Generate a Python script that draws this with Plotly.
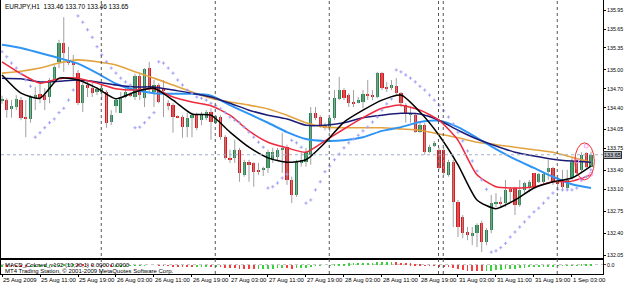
import plotly.graph_objects as go

# ---------------- data (EURJPY H1) ----------------
opens = [134.51,134.52,134.38,134.41,134.52,134.25,134.22,134.55,134.62,134.60,
         134.57,134.84,135.13,135.43,135.16,135.13,134.95,134.47,134.76,134.71,
         134.65,134.65,134.65,134.17,134.43,134.32,134.57,134.62,134.57,134.90,
         134.55,135.03,134.65,134.76,134.68,134.47,134.44,134.27,134.25,134.09,
         134.24,134.28,134.20,134.24,134.33,134.16,134.25,133.93,133.60,133.60,
         133.73,133.33,133.53,133.52,133.41,133.41,133.44,133.57,133.61,133.73,
         133.77,133.25,133.01,133.52,133.53,133.65,134.32,134.25,134.09,134.08,
         134.24,134.54,134.68,134.60,134.49,134.47,134.49,134.60,134.60,134.57,
         134.95,134.73,134.71,134.74,134.63,134.44,134.28,134.28,134.01,134.12,
         133.69,133.79,133.73,133.73,133.33,133.53,132.90,132.66,132.42,132.36,
         132.40,132.56,132.26,132.45,132.87,132.88,132.88,133.10,133.12,132.85,
         133.09,133.12,133.36,133.22,133.22,133.38,133.44,133.22,133.22,133.12,
         133.28,133.57,133.41,133.68,133.46]
highs = [134.59,134.55,134.52,134.60,134.57,134.52,134.60,134.73,134.78,134.71,
         134.87,135.08,135.48,135.84,135.37,135.24,135.00,134.79,134.81,134.79,
         134.73,134.76,134.68,134.36,134.55,134.65,134.71,134.65,134.94,134.94,
         135.03,135.13,134.84,134.79,134.84,134.52,134.47,134.28,134.28,134.32,
         134.32,134.32,134.33,134.36,134.39,134.28,134.28,133.96,133.73,133.89,
         133.76,133.57,133.57,133.53,133.52,133.46,133.73,133.76,133.76,134.00,
         133.81,133.30,133.57,133.69,133.76,134.41,134.41,134.28,134.16,134.25,
         134.68,134.89,134.71,134.63,134.68,134.57,134.68,134.84,134.68,134.97,
         134.97,134.81,134.84,134.87,134.65,134.47,134.41,134.32,134.16,134.16,
         133.81,133.87,133.76,133.77,133.57,133.57,132.93,132.69,132.50,132.50,
         132.56,132.60,132.48,133.01,133.04,132.98,133.25,133.14,133.14,133.25,
         133.22,133.25,133.36,133.36,133.38,133.57,133.46,133.33,133.41,133.41,
         133.60,133.60,133.69,133.69,133.70]
lows = [134.46,134.24,134.24,134.36,134.20,133.93,134.16,134.36,134.47,134.36,
        134.47,134.81,135.03,134.97,135.08,134.89,134.44,134.33,134.57,134.57,
        134.60,134.52,134.08,134.12,134.32,134.32,134.55,134.57,134.52,134.52,
        134.41,134.65,134.41,134.47,134.25,134.36,134.00,134.24,133.92,133.93,
        133.93,134.04,134.12,134.20,133.89,134.14,133.89,133.57,133.52,133.52,
        133.22,133.30,133.22,133.14,133.33,133.31,133.36,133.52,133.57,133.36,
        133.17,132.88,132.98,133.46,133.46,133.49,134.20,134.08,134.04,134.01,
        134.20,134.52,134.52,134.41,134.41,134.47,134.39,134.52,134.52,134.55,
        134.68,134.65,134.68,134.60,134.41,134.16,134.16,134.00,134.00,133.65,
        133.68,133.77,133.41,133.33,133.30,132.50,132.34,132.32,132.29,132.21,
        132.18,132.10,132.21,132.40,132.82,132.82,132.82,132.88,132.69,132.82,
        133.04,133.06,133.12,133.20,133.17,133.25,133.17,133.12,133.09,133.09,
        133.25,133.33,133.36,133.44,133.46]
closes = [134.54,134.36,134.43,134.54,134.24,134.22,134.57,134.60,134.55,134.52,
          134.84,135.05,135.43,135.27,135.11,135.08,134.47,134.76,134.71,134.63,
          134.70,134.71,134.16,134.28,134.52,134.57,134.65,134.60,134.90,134.60,
          135.02,134.71,134.76,134.49,134.67,134.43,134.25,134.25,134.09,134.24,
          134.28,134.08,134.30,134.33,134.17,134.27,133.93,133.60,133.57,133.73,
          133.36,133.53,133.49,133.38,133.38,133.42,133.69,133.69,133.73,133.75,
          133.25,133.01,133.53,133.57,133.69,134.32,134.24,134.09,134.08,134.24,
          134.55,134.68,134.55,134.47,134.47,134.52,134.62,134.59,134.57,134.95,
          134.71,134.71,134.76,134.63,134.47,134.32,134.32,134.01,134.12,133.69,
          133.77,133.84,133.44,133.36,133.53,132.90,132.50,132.40,132.37,132.40,
          132.53,132.26,132.45,132.88,132.88,132.87,133.09,133.06,132.85,133.09,
          133.20,133.22,133.14,133.34,133.34,133.44,133.22,133.20,133.14,133.25,
          133.53,133.36,133.65,133.46,133.65]

# moving averages sampled every 4 bars
ma_idx = list(range(0, 125, 4))
ma_black = [134.92,134.63,134.55,134.87,134.84,134.71,134.54,134.65,134.71,134.52,
            134.30,134.28,134.01,133.77,133.60,133.53,133.57,133.84,134.17,134.36,
            134.52,134.60,134.33,133.96,133.49,132.93,132.79,132.93,133.12,133.22,
            133.28,133.47]
ma_red = [135.13,134.94,134.79,134.86,134.87,134.79,134.70,134.68,134.70,134.57,
          134.49,134.43,134.28,134.03,133.85,133.76,133.69,133.87,134.06,134.24,
          134.39,134.44,134.36,134.20,133.88,133.33,133.14,133.12,133.14,133.22,
          133.23,133.33]
ma_navy = [134.87,134.86,134.81,134.82,134.84,134.81,134.76,134.73,134.73,134.68,
           134.63,134.57,134.47,134.36,134.28,134.22,134.12,134.12,134.16,134.24,
           134.28,134.31,134.30,134.20,134.04,133.90,133.79,133.69,133.63,133.58,
           133.55,133.53]
ma_lightblue = [135.40,135.35,135.27,135.19,135.10,134.95,134.78,134.68,134.63,134.62,
                134.62,134.59,134.44,134.30,134.16,134.01,133.90,133.87,133.88,133.93,
                134.03,134.09,134.17,134.19,134.09,133.92,133.74,133.58,133.44,133.30,
                133.18,133.12]
ma_orange = [134.95,134.98,135.03,135.11,135.16,135.13,135.08,134.97,134.87,134.76,
             134.65,134.55,134.49,134.44,134.38,134.28,134.16,134.09,134.08,134.08,
             134.08,134.06,134.04,133.98,133.92,133.85,133.81,133.77,133.73,133.69,
             133.61,133.53]

# parabolic SAR
sar = [135.29,135.21,135.11,135.03,134.94,134.84,134.74,133.93,134.00,134.08,
       134.16,134.22,134.32,134.39,134.52,134.68,135.86,135.76,135.64,135.52,
       135.37,135.24,135.13,135.03,134.95,134.87,134.81,134.76,134.08,134.09,
       134.16,134.24,134.32,135.13,135.11,135.03,134.95,134.84,134.76,134.68,
       134.63,134.57,134.55,134.52,134.47,134.43,134.38,134.32,134.25,134.20,
       134.16,134.09,134.01,133.93,133.85,133.77,133.12,133.14,133.20,133.28,
       133.34,133.88,133.84,133.77,132.88,132.93,133.09,133.22,133.38,133.47,
       133.57,133.66,133.76,133.84,133.90,133.96,134.03,134.09,134.17,134.25,
       134.36,134.46,134.54,135.00,134.97,134.92,134.87,134.81,134.74,134.68,
       134.60,134.52,134.44,134.35,134.25,134.14,134.01,133.87,133.71,133.55,
       133.39,133.25,133.10,132.10,132.12,132.17,132.24,132.34,132.42,132.50,
       132.58,132.66,132.74,132.80,132.88,132.96,133.04,133.10,133.09,133.09,
       133.09,133.12,133.25,133.30,133.41]

# MACD colored histogram (sub window)
macd = [-0.10,-0.11,-0.12,-0.13,-0.14,-0.15,-0.14,-0.13,-0.12,-0.11,
        -0.08,-0.04,0.02,0.06,0.08,0.08,0.05,0.03,0.02,0.01,
        0.00,-0.01,-0.05,-0.08,-0.08,-0.07,-0.06,-0.05,-0.03,-0.03,
        -0.01,0.00,0.00,-0.01,-0.02,-0.04,-0.07,-0.09,-0.11,-0.12,
        -0.13,-0.13,-0.13,-0.12,-0.13,-0.13,-0.15,-0.19,-0.22,-0.23,
        -0.26,-0.27,-0.28,-0.29,-0.29,-0.29,-0.27,-0.25,-0.23,-0.21,
        -0.22,-0.25,-0.24,-0.21,-0.18,-0.10,-0.05,-0.02,0.00,0.02,
        0.06,0.10,0.13,0.15,0.16,0.17,0.18,0.19,0.19,0.22,
        0.23,0.23,0.23,0.22,0.20,0.17,0.14,0.10,0.07,0.02,
        -0.02,-0.04,-0.08,-0.12,-0.15,-0.22,-0.30,-0.36,-0.41,-0.44,
        -0.45,-0.47,-0.46,-0.42,-0.38,-0.35,-0.31,-0.28,-0.25,-0.22,
        -0.19,-0.16,-0.13,-0.11,-0.09,-0.06,-0.06,-0.05,-0.05,-0.04,
        -0.01,0.01,0.03,0.04,0.05]

time_labels = ["25 Aug 2009", "25 Aug 11:00", "25 Aug 19:00", "26 Aug 03:00",
               "26 Aug 11:00", "26 Aug 19:00", "27 Aug 03:00", "27 Aug 11:00",
               "27 Aug 19:00", "28 Aug 03:00", "28 Aug 11:00", "28 Aug 19:00",
               "31 Aug 03:00", "31 Aug 11:00", "31 Aug 19:00", "1 Sep 03:00"]
time_label_idx = list(range(0, 125, 8))
separators = [21, 45, 69, 92, 93, 117]
price_ticks = [135.95, 135.65, 135.35, 135.00, 134.70, 134.40, 134.05, 133.75,
               133.40, 133.10, 132.75, 132.40, 132.05]
bid = 133.65
signals_x = [121, 122, 123, 124]
signals_y = [133.55, 133.26, 133.79, 133.34]

# ---------------- figure ----------------
n = len(opens)
idx = list(range(n))
FONT = "Liberation Sans"
GREEN = "#1f8a4d"
RED = "#e8141a"
WICK = "#a0a0a0"

fig = go.Figure()

# wicks
wx, wy = [], []
for i in idx:
    wx += [i, i, None]
    wy += [lows[i], highs[i], None]
fig.add_trace(go.Scatter(x=wx, y=wy, mode="lines", line=dict(color=WICK, width=1),
                         hoverinfo="skip", showlegend=False))

# bodies
base = [min(o, c) for o, c in zip(opens, closes)]
height = [max(abs(c - o), 0.014) for o, c in zip(opens, closes)]
bcol = [GREEN if c > o else (RED if c < o else "#606060") for o, c in zip(opens, closes)]
fig.add_trace(go.Bar(x=idx, y=height, base=base, width=0.68,
                     marker=dict(color=bcol, line=dict(width=0)), showlegend=False))

# moving averages
for vals, col, w in [(ma_orange, "#e3a33f", 1.6), (ma_lightblue, "#2f95f5", 2.0),
                     (ma_navy, "#1c1c78", 1.5), (ma_red, "#f0283c", 1.5),
                     (ma_black, "#000000", 1.5)]:
    fig.add_trace(go.Scatter(x=ma_idx, y=vals, mode="lines",
                             line=dict(color=col, width=w, shape="spline", smoothing=0.6),
                             showlegend=False, hoverinfo="skip"))

# parabolic SAR
fig.add_trace(go.Scatter(x=idx, y=sar, mode="markers",
                         marker=dict(symbol="cross-thin", size=2.3,
                                     line=dict(color="#a2a2f4", width=1)),
                         showlegend=False, hoverinfo="skip"))

# signals
fig.add_trace(go.Scatter(x=signals_x, y=signals_y, mode="markers",
                         marker=dict(symbol="circle-open", size=4,
                                     line=dict(color="#f03030", width=1)),
                         showlegend=False, hoverinfo="skip"))

# MACD histogram
mcol = ["#3cd03c" if (k == 0 or macd[k] >= macd[k - 1]) else "#f04040" for k in range(n)]
fig.add_trace(go.Bar(x=idx, y=macd, width=0.2, marker=dict(color=mcol, line=dict(width=0)),
                     xaxis="x2", yaxis="y2", showlegend=False))

# separators
for s in separators:
    fig.add_shape(type="line", xref="x", yref="paper", x0=s - 0.1, x1=s - 0.1, y0=0, y1=1,
                  line=dict(color="#555555", width=1, dash="dot"))
# bid line
fig.add_shape(type="line", xref="paper", yref="y", x0=0, x1=1, y0=bid, y1=bid,
              line=dict(color="#9fb0c8", width=1, dash="dot"))
# ellipse
fig.add_shape(type="circle", xref="x", yref="y", x0=120.6, x1=124.7,
              y0=133.25, y1=133.84, line=dict(color="#f03030", width=1))

header = "EURJPY,H1  %.2f %.2f %.2f %.2f" % (opens[-1], highs[-1], lows[-1], closes[-1])
fig.add_annotation(xref="paper", yref="paper", x=0.004, y=1, xanchor="left", yanchor="top",
                   yshift=-1, text=header, showarrow=False,
                   font=dict(family=FONT, size=6.5, color="#000000"))
fig.add_annotation(xref="paper", yref="y", x=1, y=bid, xanchor="left", yanchor="middle",
                   xshift=0, text="%.2f" % bid, showarrow=False,
                   font=dict(family=FONT, size=5.5, color="#000000"),
                   bgcolor="#b4b8c0", bordercolor="#303030", borderwidth=1, borderpad=0)
fig.add_annotation(xref="paper", yref="paper", x=0.004, y=0.052, xanchor="left", yanchor="top",
                   text="MACD_Colored_v102 (10,20,1) 0.0000 0.0000", showarrow=False,
                   font=dict(family=FONT, size=6, color="#000000"))
fig.add_annotation(xref="paper", yref="paper", x=0.004, y=0.030, xanchor="left", yanchor="top",
                   text="MT4 Trading Station, \u00a9 2001-2009 MetaQuotes Software Corp.",
                   showarrow=False, font=dict(family=FONT, size=6, color="#000000"))

fig.update_layout(
    width=625, height=285,
    margin=dict(l=1, r=22, t=0, b=11),
    paper_bgcolor="#ffffff", plot_bgcolor="#ffffff",
    bargap=0, barmode="overlay",
    xaxis=dict(domain=[0, 1], range=[-0.21, 126.53], anchor="y", showticklabels=False,
               showgrid=False, zeroline=False, showline=True, linecolor="#000000",
               linewidth=1, mirror=True, ticks=""),
    yaxis=dict(domain=[0.0584, 1], range=[132.006, 136.114], side="right",
               tickvals=price_ticks, ticktext=["%.2f" % v for v in price_ticks],
               ticks="outside", ticklen=2, tickcolor="#000000", ticklabelstandoff=0,
               tickfont=dict(family=FONT, size=5.3, color="#000000"),
               showgrid=False, zeroline=False, showline=True, linecolor="#000000",
               linewidth=1, mirror=True, automargin=False),
    xaxis2=dict(domain=[0, 1], range=[-0.21, 126.53], anchor="y2", matches="x",
                tickvals=time_label_idx, ticktext=time_labels, tickangle=0,
                ticklabelposition="outside right", ticks="outside", ticklen=2,
                tickcolor="#000000", tickfont=dict(family=FONT, size=6, color="#000000"),
                showgrid=False, zeroline=False, showline=True, linecolor="#000000",
                linewidth=1, mirror=True, automargin=False),
    yaxis2=dict(domain=[0, 0.0529], range=[-0.7, 0.4], side="right",
                tickvals=[0.0], ticktext=["0.0"], ticks="outside", ticklen=2,
                tickfont=dict(family=FONT, size=5.3, color="#000000"),
                showgrid=True, gridcolor="#c8c8c8", griddash="dot", dtick=0.15,
                zeroline=False, showline=True, linecolor="#000000", linewidth=1,
                mirror=True, automargin=False),
)

fig.write_html("out.html")
